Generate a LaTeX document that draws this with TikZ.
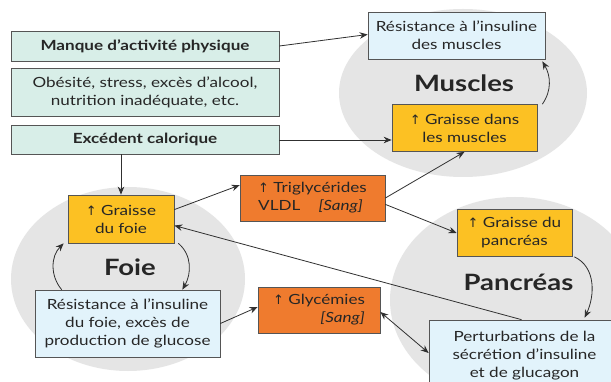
\documentclass[tikz,border=0pt]{standalone}
\usepackage{fontspec}
\setmainfont{Lato}[FakeStretch=1.22]
\newfontfamily\symf{DejaVu Sans}
\usetikzlibrary{arrows.meta}
\definecolor{mint}{HTML}{D8EEE8}
\definecolor{lblue}{HTML}{E2F3FB}
\definecolor{gold}{HTML}{FCC123}
\definecolor{orng}{HTML}{EF7B2E}
\definecolor{circ}{HTML}{E5E5E5}
\definecolor{edge}{HTML}{555555}
\definecolor{lc}{HTML}{303030}
\definecolor{txt}{HTML}{262626}
\newcommand\fs{\fontsize{14}{18}\selectfont}
\newcommand\uparr{{\symf\fontsize{13}{13}\selectfont ↑}}
\begin{document}
\begin{tikzpicture}[x=1pt,y=1pt,
  bx/.style={draw=edge, line width=0.7pt, align=center, inner sep=0pt, font=\fs, text=txt},
  lab/.style={font=\fontsize{22.5}{24}\selectfont\bfseries, text=txt, inner sep=0pt},
  ar/.style={draw=lc, line width=0.8pt, -{Stealth[length=8pt,width=6.5pt]}},
  dar/.style={draw=lc, line width=0.8pt, {Stealth[length=8pt,width=6.5pt]}-{Stealth[length=8pt,width=6.5pt]}}]
\useasboundingbox (0,0) rectangle (611,-382);
\fill[white] (0,0) rectangle (611,-382);
\clip (0,0) rectangle (611,-382);
% organ discs
\fill[circ] (463,-93) ellipse (124 and 84);
\fill[circ] (128,-279) ellipse (117 and 92);
\fill[circ] (515,-300) ellipse (125 and 103);
% labels
\node[lab] (lmus) at (464,-83) {Muscles};
\node[lab] (lfoie) at (130,-267) {Foie};
\node[lab] (lpanc) at (518.5,-282) {Pancréas};
% boxes
\node[bx, fill=mint, minimum width=268, minimum height=30, font=\fs\bfseries] (manque) at (145,-46) {Manque d’activité physique};
\node[bx, fill=mint, minimum width=268, minimum height=48] (obes) at (145,-92) {Obésité, stress, excès d’alcool,\\ nutrition inadéquate, etc.};
\node[bx, fill=mint, minimum width=268, minimum height=29, font=\fs\bfseries] (exc) at (145,-139.5) {Excédent calorique};
\node[bx, fill=lblue, minimum width=177, minimum height=47] (resmus) at (456.5,-35.5) {Résistance à l’insuline\\ des muscles};
\node[bx, fill=gold, minimum width=145, minimum height=47] (grmus) at (464.5,-128) {\uparr\ Graisse dans\\ les muscles};
\node[bx, fill=gold, minimum width=106, minimum height=48] (grfoie) at (121,-219) {\uparr\ Graisse\\ du foie};
\node[bx, fill=lblue, minimum width=185, minimum height=67] (resfoie) at (127.5,-323.5) {Résistance à l’insuline\\ du foie, excès de\\ production de glucose};
\node[bx, fill=orng, minimum width=145, minimum height=46, align=left] (trig) at (312.5,-198) {\uparr\ Triglycérides\\ VLDL\hspace{1.3em}\textit{[Sang]}};
\node[bx, fill=orng, minimum width=122, minimum height=46, align=right] (glyc) at (319,-310) {\uparr\ Glycémies\\ \textit{[Sang]}};
\node[bx, fill=gold, minimum width=115, minimum height=47] (grpanc) at (514.5,-233) {\uparr\ Graisse du\\ pancréas};
\node[bx, fill=lblue, minimum width=191, minimum height=72] (pert) at (524.5,-356) {Perturbations de la\\ sécrétion d’insuline\\ et de glucagon};
% connectors
\draw[ar] (manque.east) -- ([yshift=1pt]resmus.west);
\draw[ar] (exc.east |- 0,-140) -- (grmus.west |- 0,-140);
\draw[ar] (exc.south -| grfoie.north) -- (grfoie.north);
\draw[ar] (grfoie.10) -- (trig.170);
\draw[ar] (trig.east) -- (grmus.south);
\draw[ar] (trig.-5) -- (grpanc.west);
\draw[ar] ([xshift=-3pt]pert.north) -- (grfoie.-7);
\draw[ar] (resfoie.east) -- ([yshift=3pt]glyc.west);
\draw[dar] ([yshift=-2pt]glyc.east) -- ([yshift=3pt]pert.west);
\draw[ar] ([xshift=4pt]grfoie.south east) to[out=-40,in=60] ([xshift=-38pt]resfoie.north east);
\draw[ar] ([xshift=27pt]resfoie.north west) to[out=130,in=225] ([xshift=-4pt]grfoie.south west);
\draw[ar] ([xshift=5pt]grmus.north east) to[out=55,in=-60] ([xshift=-3pt,yshift=-2pt]resmus.south east);
\draw[ar] ([xshift=2pt]grpanc.south east) to[out=-25,in=65] ([xshift=156pt,yshift=2pt]pert.north west);
\end{tikzpicture}
\end{document}
